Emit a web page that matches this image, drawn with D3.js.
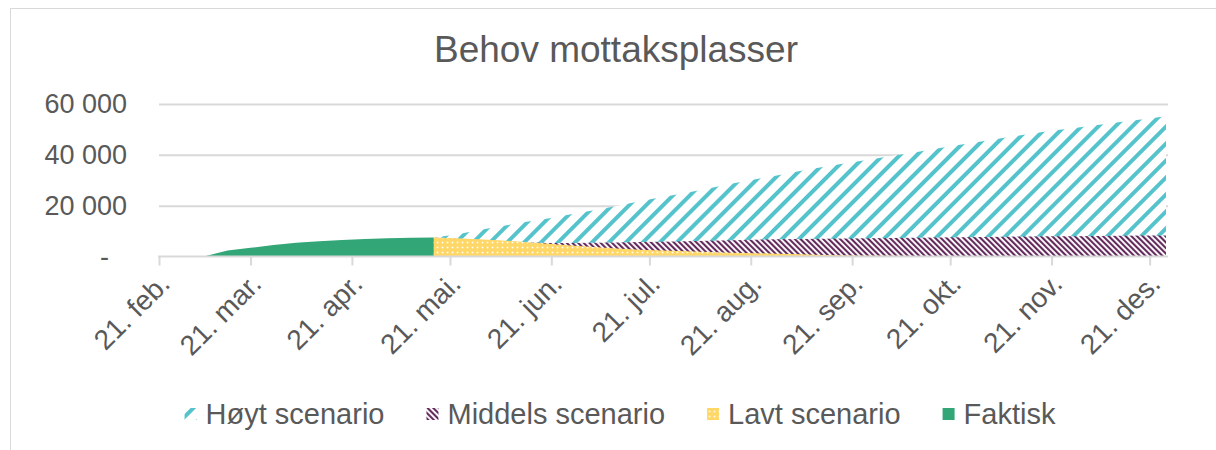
<!DOCTYPE html>
<html>
<head>
<meta charset="utf-8">
<script src="https://cdn.jsdelivr.net/npm/d3@7"></script>
<style>
  body { margin: 0; background: #fff; }
  #chart { width: 1216px; height: 450px; }
  text { font-family: "Liberation Sans", Arial, sans-serif; fill: #595959; }
</style>
</head>
<body>
<div id="chart"></div>
<script>
// Behov mottaksplasser - overlapping area chart (Excel style, pattern fills)

const faktiskDates = ["2022-02-21", "2022-02-28", "2022-03-07", "2022-03-14", "2022-03-21", "2022-03-28",
  "2022-04-04", "2022-04-11", "2022-04-18", "2022-04-25", "2022-05-02", "2022-05-09", "2022-05-16"];
const faktiskValues = [0, 0, 100, 2400, 3400, 4500, 5400, 6000, 6500, 6900, 7200, 7400, 7500];

const scenarioDates = ["2022-05-16", "2022-05-23", "2022-05-30", "2022-06-06", "2022-06-13", "2022-06-20",
  "2022-06-27", "2022-07-04", "2022-07-11", "2022-07-18", "2022-07-25", "2022-08-01", "2022-08-08",
  "2022-08-15", "2022-08-22", "2022-08-29", "2022-09-05", "2022-09-12", "2022-09-19", "2022-09-26",
  "2022-10-03", "2022-10-10", "2022-10-17", "2022-10-24", "2022-10-31", "2022-11-07", "2022-11-14",
  "2022-11-21", "2022-11-28", "2022-12-05", "2022-12-12", "2022-12-19", "2022-12-26"];
const hoytValues = [7500, 8700, 10400, 12000, 13600, 15000, 16600, 18200, 19900, 21700, 23400, 25000,
  26800, 28600, 30300, 31900, 33600, 35200, 36700, 38100, 39500, 40900, 42500, 44000, 45300, 46800,
  48200, 49500, 50600, 51700, 52900, 54000, 55200];
const middelsValues = [7500, 7000, 6500, 6000, 5600, 5300, 5300, 5400, 5500, 5700, 5800, 6000, 6200,
  6400, 6600, 6800, 6900, 7000, 7100, 7200, 7300, 7400, 7500, 7600, 7700, 7800, 7900, 8000, 8000,
  8100, 8200, 8300, 8300];
const lavtValues = [7500, 7200, 6800, 6300, 5700, 5000, 4300, 3700, 3100, 2700, 2400, 2100, 1800,
  1500, 1300, 1100, 900, 600, 400, 300, 250, 200, 200, 200, 150, 150, 150, 100, 100, 100, 100, 100, 100];

const monthTicks = ["2022-02-21", "2022-03-21", "2022-04-21", "2022-05-21", "2022-06-21", "2022-07-21",
  "2022-08-21", "2022-09-21", "2022-10-21", "2022-11-21", "2022-12-21"];
const monthLabels = ["21. feb.", "21. mar.", "21. apr.", "21. mai.", "21. jun.", "21. jul.",
  "21. aug.", "21. sep.", "21. okt.", "21. nov.", "21. des."];
const yTicks = [0, 20000, 40000, 60000];
const yTickLabels = ["-", "20 000", "40 000", "60 000"];

const seriesNames = ["Høyt scenario", "Middels scenario", "Lavt scenario", "Faktisk"];

function renderChart(containerId) {
  const width = 1216, height = 450;
  const margin = { top: 104, right: 50, bottom: 193.5, left: 159 };
  const parse = d3.timeParse("%Y-%m-%d");

  const container = d3.select(`#${containerId}`);
  container.selectAll("*").remove();
  const svg = container.append("svg").attr("width", width).attr("height", height);

  // chart frame
  svg.append("rect")
    .attr("x", 10.5).attr("y", 8.5)
    .attr("width", 1300).attr("height", 600)
    .attr("fill", "none").attr("stroke", "#d9d9d9");

  // patterns
  const defs = svg.append("defs");
  const teal = "#55c3cb", plum = "#632a5c", yellow = "#ffd766", green = "#32a676";

  const pH = defs.append("pattern").attr("id", "pat-hoyt")
    .attr("patternUnits", "userSpaceOnUse").attr("width", 12).attr("height", 12)
    .attr("patternTransform", "rotate(45)");
  pH.append("rect").attr("width", 12).attr("height", 12).attr("fill", "#fff");
  pH.append("rect").attr("width", 4).attr("height", 12).attr("fill", teal);

  const pM = defs.append("pattern").attr("id", "pat-middels")
    .attr("patternUnits", "userSpaceOnUse").attr("width", 4).attr("height", 4)
    .attr("patternTransform", "rotate(-45)");
  pM.append("rect").attr("width", 4).attr("height", 4).attr("fill", "#fff");
  pM.append("rect").attr("width", 2.1).attr("height", 4).attr("fill", plum);

  const pL = defs.append("pattern").attr("id", "pat-lavt")
    .attr("patternUnits", "userSpaceOnUse").attr("width", 5).attr("height", 5);
  pL.append("rect").attr("width", 5).attr("height", 5).attr("fill", yellow);
  pL.append("rect").attr("x", 1.7).attr("y", 1.7).attr("width", 1.6).attr("height", 1.6).attr("fill", "#fff");

  const fills = ["url(#pat-hoyt)", "url(#pat-middels)", "url(#pat-lavt)", green];

  // scales
  const x = d3.scaleTime()
    .domain([parse("2022-02-21"), parse("2022-12-26")])
    .range([margin.left, width - margin.right]);
  const y = d3.scaleLinear()
    .domain([0, 60000])
    .range([height - margin.bottom, margin.top]);

  // gridlines
  const grid = svg.append("g")
    .attr("transform", `translate(${margin.left},0)`)
    .call(d3.axisLeft(y).tickValues(yTicks.slice(1)).tickSize(-(width - margin.right - margin.left + 2)).tickFormat(""));
  grid.select(".domain").remove();
  grid.selectAll("line").attr("stroke", "#d9d9d9").attr("stroke-width", 2);

  // areas
  const area = d3.area()
    .x(d => x(d.date))
    .y0(y(0))
    .y1(d => y(d.value));

  const seriesData = [
    scenarioDates.map((d, i) => ({ date: parse(d), value: hoytValues[i] })),
    scenarioDates.map((d, i) => ({ date: parse(d), value: middelsValues[i] })),
    scenarioDates.map((d, i) => ({ date: parse(d), value: lavtValues[i] })),
    faktiskDates.map((d, i) => ({ date: parse(d), value: faktiskValues[i] }))
  ];

  svg.append("g").selectAll("path")
    .data(seriesData)
    .join("path")
    .attr("d", area)
    .attr("fill", (d, i) => fills[i]);

  // x axis
  const xAxis = svg.append("g")
    .attr("transform", `translate(0,${y(0)})`)
    .call(d3.axisBottom(x)
      .tickValues(monthTicks.map(parse))
      .tickSize(9)
      .tickFormat((d, i) => monthLabels[i]));
  xAxis.select(".domain").attr("stroke", "#d9d9d9").attr("stroke-width", 2)
    .attr("d", `M${margin.left - 1},0H${width - margin.right + 2}`);
  xAxis.selectAll(".tick line").attr("stroke", "#d9d9d9").attr("stroke-width", 2);
  xAxis.selectAll(".tick text")
    .attr("font-size", 28)
    .attr("fill", "#595959")
    .attr("text-anchor", "end")
    .attr("x", 0).attr("y", 0).attr("dy", "0.35em")
    .attr("transform", "translate(5,22) rotate(-45)");

  // y axis labels
  const yAxis = svg.append("g")
    .attr("transform", `translate(127,0)`)
    .call(d3.axisLeft(y).tickValues(yTicks).tickSize(0)
      .tickFormat((d, i) => yTickLabels[i]));
  yAxis.select(".domain").remove();
  yAxis.selectAll(".tick text")
    .attr("font-size", 27)
    .attr("fill", "#595959")
    .attr("x", 0)
    .attr("text-anchor", "end");
  yAxis.selectAll(".tick text").filter(d => d === 0)
    .attr("x", -18);

  // title
  svg.append("text")
    .attr("x", 616).attr("y", 62)
    .attr("text-anchor", "middle")
    .attr("font-size", 37)
    .text("Behov mottaksplasser");

  // legend
  const legend = svg.append("g");
  const markerSize = 12, gapText = 9, gapItem = 42;
  let cursor = 0;
  seriesNames.forEach((name, i) => {
    const item = legend.append("g").attr("transform", `translate(${cursor},0)`);
    item.append("rect")
      .attr("x", 0).attr("y", -markerSize / 2)
      .attr("width", markerSize).attr("height", markerSize)
      .attr("fill", fills[i]);
    const t = item.append("text")
      .attr("x", markerSize + gapText).attr("y", 0).attr("dy", "0.35em")
      .attr("font-size", 29)
      .text(name);
    cursor += markerSize + gapText + t.node().getComputedTextLength() + gapItem;
  });
  const legendWidth = cursor - gapItem;
  legend.attr("transform", `translate(${620 - legendWidth / 2},414)`);
}

document.addEventListener("DOMContentLoaded", () => {
  renderChart("chart");
});
</script>
</body>
</html>
